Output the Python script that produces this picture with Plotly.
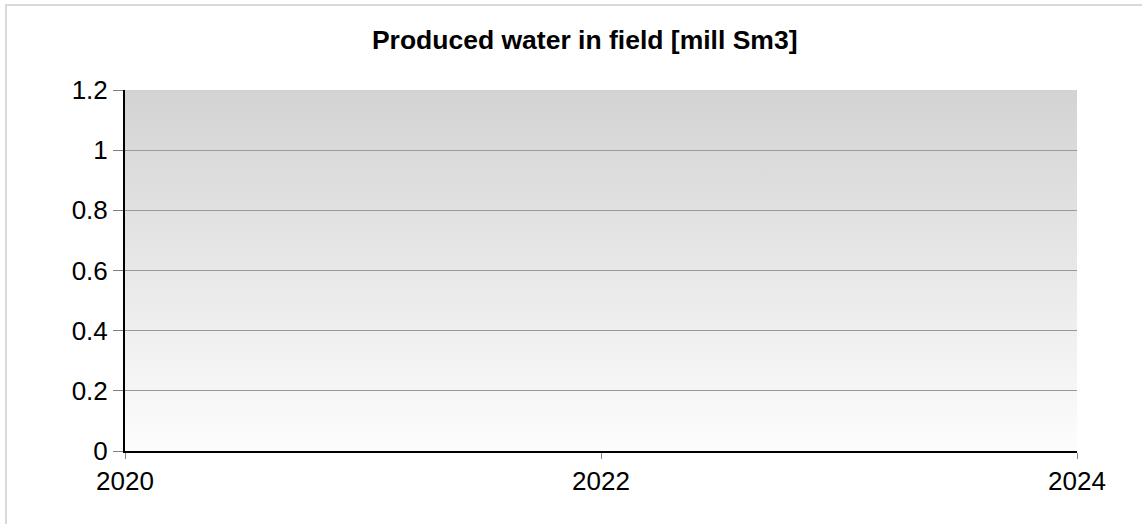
import base64
import plotly.graph_objects as go

# Data (the reference chart shows no values)
years = []
produced_water = []
x_tick_vals = [2020, 2022, 2024]
x_tick_text = ["2020", "2022", "2024"]
y_tick_vals = [0, 0.2, 0.4, 0.6, 0.8, 1.0, 1.2]
y_tick_text = ["0", "0.2", "0.4", "0.6", "0.8", "1", "1.2"]
title_text = "Produced water in field [mill Sm3]"

svg = ('<svg xmlns="http://www.w3.org/2000/svg" width="10" height="100" preserveAspectRatio="none">'
       '<defs><linearGradient id="g" x1="0" y1="0" x2="0" y2="1">'
       '<stop offset="0" stop-color="#d3d3d3"/><stop offset="1" stop-color="#fdfdfd"/>'
       '</linearGradient></defs><rect width="10" height="100" fill="url(#g)"/></svg>')
grad_uri = "data:image/svg+xml;base64," + base64.b64encode(svg.encode()).decode()

FONT = "Liberation Sans, Arial, sans-serif"

fig = go.Figure()
fig.add_trace(go.Scatter(x=years, y=produced_water, mode="lines",
                         line=dict(color="#1f4e9a"), showlegend=False))

fig.update_layout(
    width=1142, height=524,
    margin=dict(l=125, r=65, t=90, b=73),
    paper_bgcolor="white", plot_bgcolor="white",
    font=dict(family=FONT, color="black"),
    title=dict(text=f"<b>{title_text}</b>", font=dict(size=26.5, family=FONT, color="black"),
               xref="container", x=0.512, xanchor="center",
               yref="container", y=1 - 40 / 524, yanchor="middle"),
    showlegend=False,
    images=[dict(source=grad_uri, xref="paper", yref="paper", x=0, y=1,
                 sizex=1, sizey=1, sizing="stretch", layer="below",
                 xanchor="left", yanchor="top")],
    shapes=[dict(type="rect", xref="paper", yref="paper",
                 x0=(6 - 125) / 952, x1=1.2, y0=-0.4, y1=(451 - 5) / 361,
                 line=dict(color="#d9d9d9", width=2), fillcolor="rgba(0,0,0,0)",
                 layer="below")],
)

fig.update_xaxes(range=[2020, 2024], tickvals=x_tick_vals, ticktext=x_tick_text,
                 showgrid=False, zeroline=False,
                 showline=True, linecolor="black", linewidth=2,
                 ticks="outside", ticklen=6, tickcolor="#808080", tickwidth=1,
                 tickfont=dict(size=26, family=FONT, color="black"))
fig.update_yaxes(range=[0, 1.2], tickvals=y_tick_vals, ticktext=y_tick_text,
                 showgrid=True, gridcolor="#999999", gridwidth=1, zeroline=False,
                 showline=True, linecolor="black", linewidth=2,
                 ticks="outside", ticklen=10, tickcolor="#808080", tickwidth=1,
                 tickfont=dict(size=26, family=FONT, color="black"))

fig.write_html("out.html", config={"displayModeBar": False},
               post_script="document.body.style.margin='0';")
